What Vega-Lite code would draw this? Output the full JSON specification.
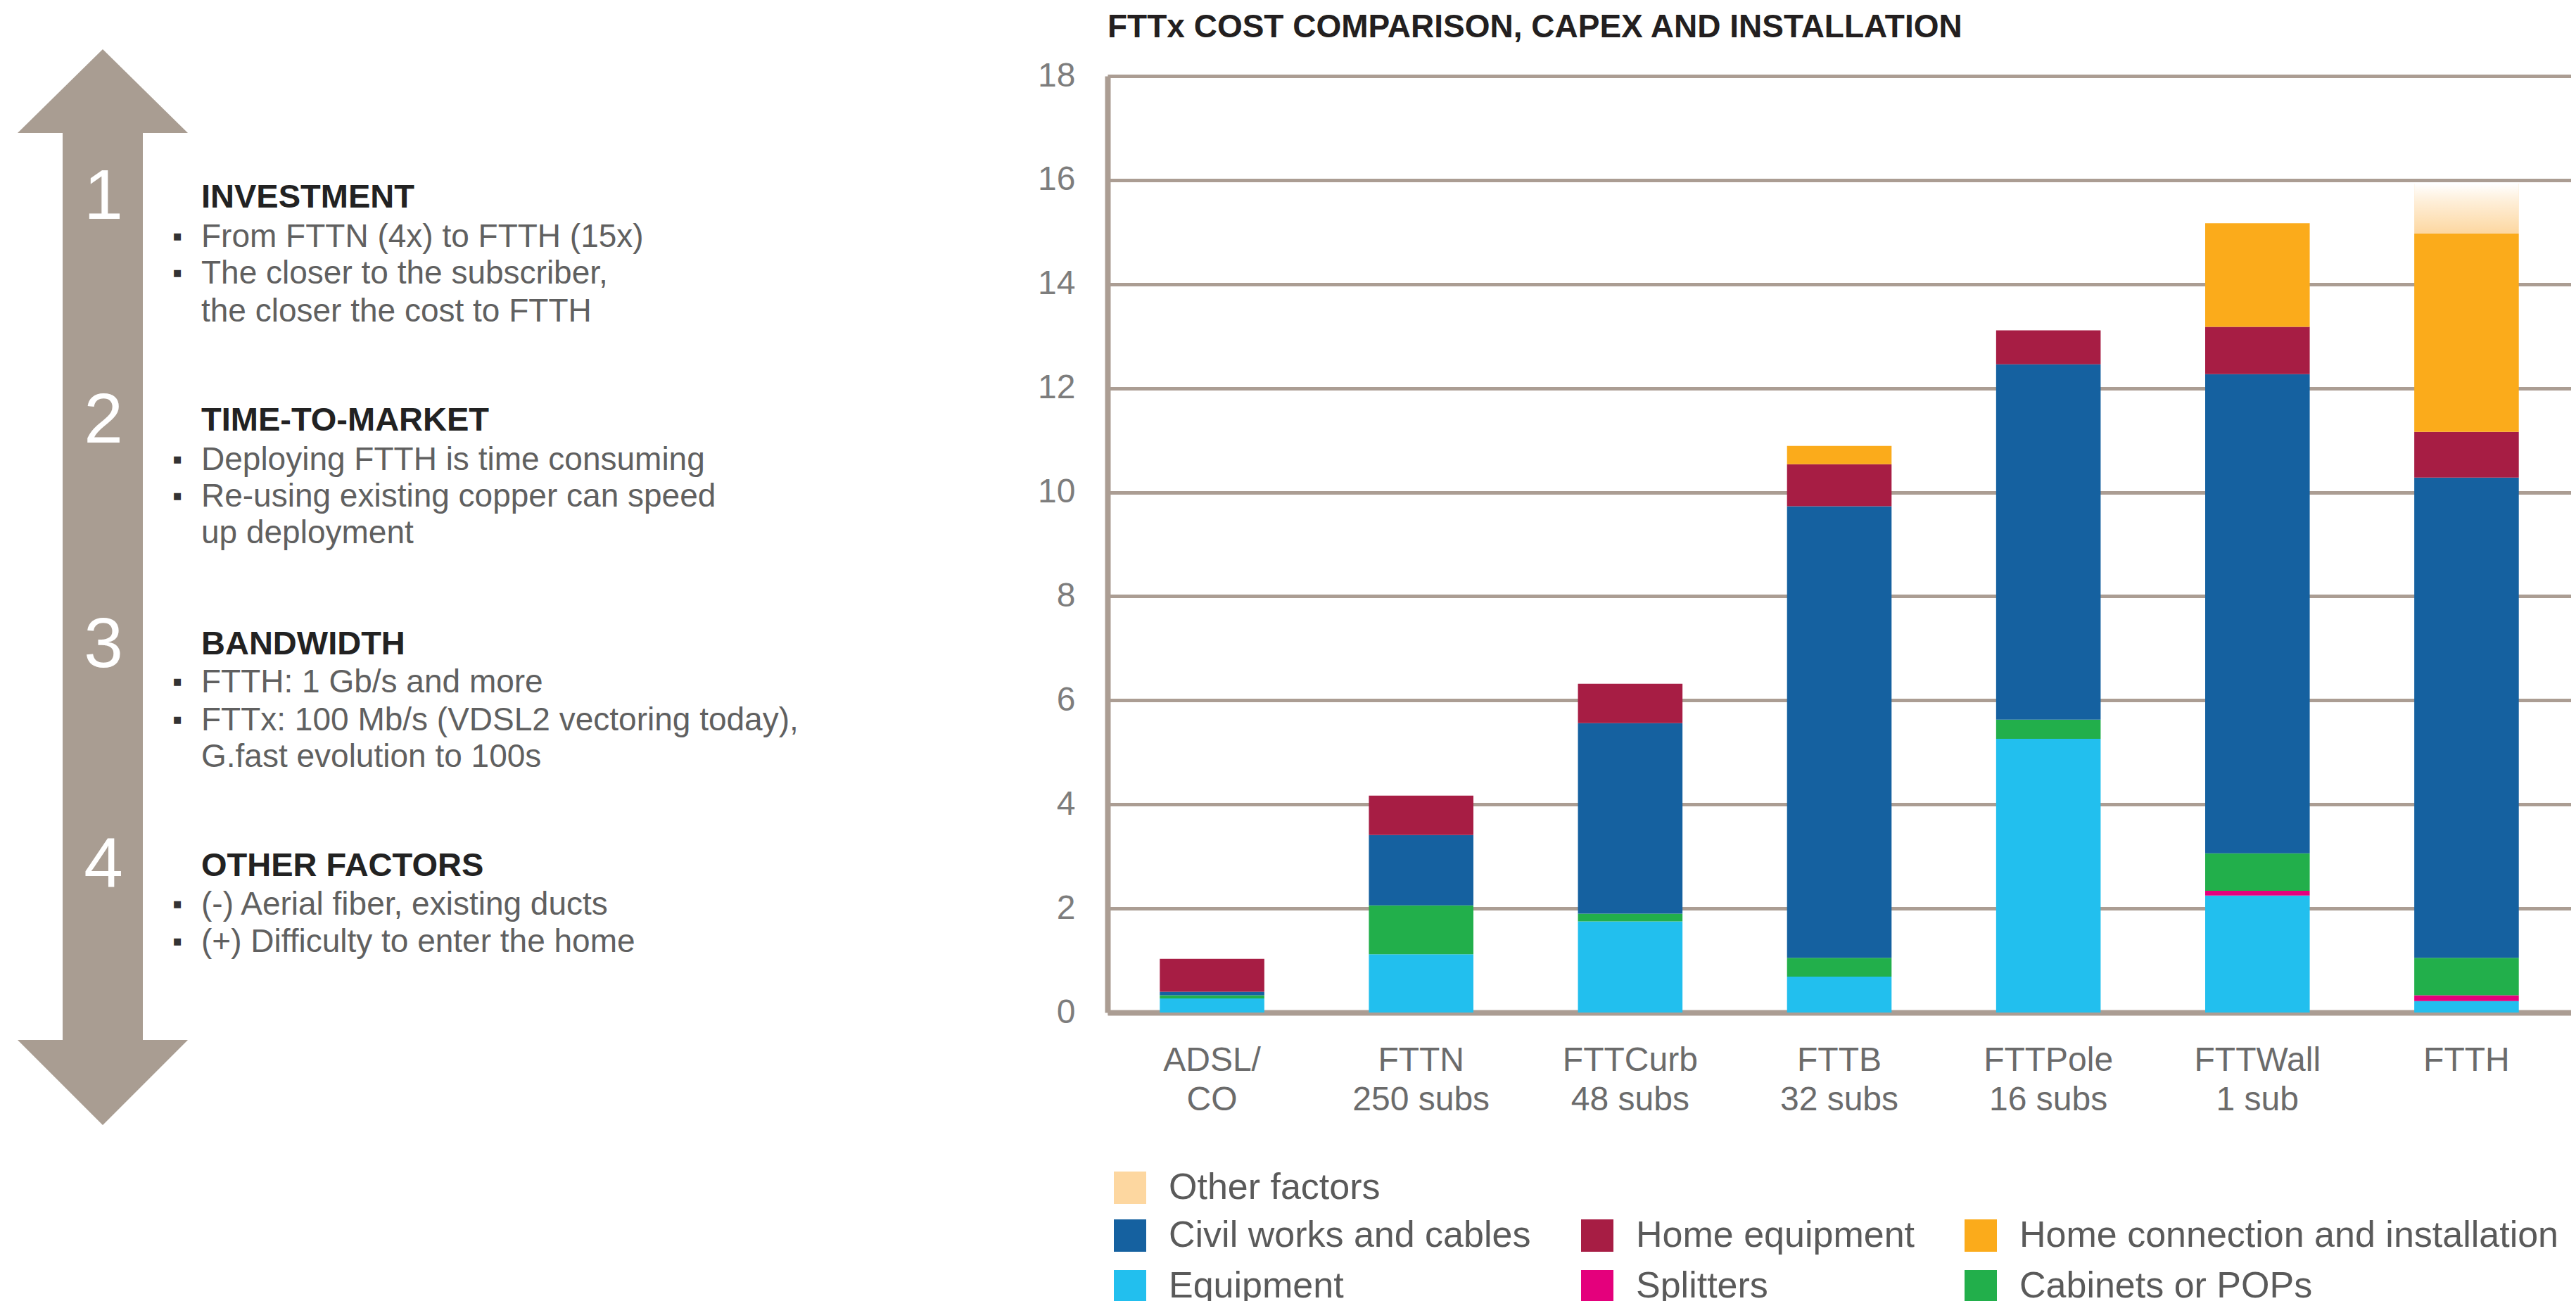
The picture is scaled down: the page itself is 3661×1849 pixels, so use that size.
{
  "$schema": "https://vega.github.io/schema/vega-lite/v6.json",
  "padding": {"left": 0, "top": 16, "right": 0, "bottom": 0},
  "background": "white",
  "bounds": "flush",
  "spacing": 174,
  "config": {
    "font": "Liberation Sans",
    "view": {"stroke": null},
    "axisX": {
      "domainColor": "#ab9d93", "domainWidth": 8, "ticks": false, "tickSize": 0, "grid": false,
      "labelFont": "Liberation Sans", "labelFontSize": 48, "labelColor": "#6b6b6b",
      "labelLineHeight": 56, "labelPadding": 44, "labelAngle": 0, "labelLimit": 0, "zindex": 1
    },
    "axisY": {
      "domainColor": "#ab9d93", "domainWidth": 8, "ticks": false, "tickSize": 0,
      "grid": true, "gridColor": "#ab9d93", "gridWidth": 5,
      "labelFont": "Liberation Sans", "labelFontSize": 48, "labelColor": "#7d7d7d", "labelPadding": 46
    },
    "legend": {
      "orient": "none", "padding": 0, "symbolType": "square", "symbolSize": 2116,
      "symbolStrokeWidth": 0, "labelFont": "Liberation Sans", "labelFontSize": 52,
      "labelColor": "#5a5a5a", "labelOffset": 29, "labelLimit": 1200,
      "rowPadding": 20, "columnPadding": 68, "title": null
    }
  },
  "datasets": {
    "arrow": [
      {"part": "top", "y": 69, "xl": 146, "xr": 146},
      {"part": "top", "y": 188, "xl": 25, "xr": 267},
      {"part": "shaft", "y": 186, "xl": 89, "xr": 203},
      {"part": "shaft", "y": 1478, "xl": 89, "xr": 203},
      {"part": "bottom", "y": 1477, "xl": 25, "xr": 267},
      {"part": "bottom", "y": 1598, "xl": 146, "xr": 146}
    ],
    "nums": [
      {"t": "1", "x": 147, "y": 280},
      {"t": "2", "x": 147, "y": 598},
      {"t": "3", "x": 147, "y": 917},
      {"t": "4", "x": 147, "y": 1230}
    ],
    "heads": [
      {"t": "INVESTMENT", "x": 286, "y": 280},
      {"t": "TIME-TO-MARKET", "x": 286, "y": 597},
      {"t": "BANDWIDTH", "x": 286, "y": 915},
      {"t": "OTHER FACTORS", "x": 286, "y": 1230}
    ],
    "lines": [
      {"t": "From FTTN (4x) to FTTH (15x)", "x": 286, "y": 336, "b": 1},
      {"t": "The closer to the subscriber,", "x": 286, "y": 388, "b": 1},
      {"t": "the closer the cost to FTTH", "x": 286, "y": 442, "b": 0},
      {"t": "Deploying FTTH is time consuming", "x": 286, "y": 653, "b": 1},
      {"t": "Re-using existing copper can speed", "x": 286, "y": 705, "b": 1},
      {"t": "up deployment", "x": 286, "y": 757, "b": 0},
      {"t": "FTTH: 1 Gb/s and more", "x": 286, "y": 969, "b": 1},
      {"t": "FTTx: 100 Mb/s (VDSL2 vectoring today),", "x": 286, "y": 1023, "b": 1},
      {"t": "G.fast evolution to 100s", "x": 286, "y": 1075, "b": 0},
      {"t": "(-) Aerial fiber, existing ducts", "x": 286, "y": 1285, "b": 1},
      {"t": "(+) Difficulty to enter the home", "x": 286, "y": 1338, "b": 1}
    ],
    "costs": [
      {"tech": "ADSL/|CO", "category": "Equipment", "ord": 1, "value": 0.27},
      {"tech": "ADSL/|CO", "category": "Cabinets or POPs", "ord": 3, "value": 0.06},
      {"tech": "ADSL/|CO", "category": "Civil works and cables", "ord": 4, "value": 0.07},
      {"tech": "ADSL/|CO", "category": "Home equipment", "ord": 5, "value": 0.63},
      {"tech": "FTTN|250 subs", "category": "Equipment", "ord": 1, "value": 1.12},
      {"tech": "FTTN|250 subs", "category": "Cabinets or POPs", "ord": 3, "value": 0.94},
      {"tech": "FTTN|250 subs", "category": "Civil works and cables", "ord": 4, "value": 1.35},
      {"tech": "FTTN|250 subs", "category": "Home equipment", "ord": 5, "value": 0.76},
      {"tech": "FTTCurb|48 subs", "category": "Equipment", "ord": 1, "value": 1.75},
      {"tech": "FTTCurb|48 subs", "category": "Cabinets or POPs", "ord": 3, "value": 0.15},
      {"tech": "FTTCurb|48 subs", "category": "Civil works and cables", "ord": 4, "value": 3.66},
      {"tech": "FTTCurb|48 subs", "category": "Home equipment", "ord": 5, "value": 0.76},
      {"tech": "FTTB|32 subs", "category": "Equipment", "ord": 1, "value": 0.69},
      {"tech": "FTTB|32 subs", "category": "Cabinets or POPs", "ord": 3, "value": 0.36},
      {"tech": "FTTB|32 subs", "category": "Civil works and cables", "ord": 4, "value": 8.68},
      {"tech": "FTTB|32 subs", "category": "Home equipment", "ord": 5, "value": 0.81},
      {"tech": "FTTB|32 subs", "category": "Home connection and installation", "ord": 6, "value": 0.35},
      {"tech": "FTTPole|16 subs", "category": "Equipment", "ord": 1, "value": 5.26},
      {"tech": "FTTPole|16 subs", "category": "Cabinets or POPs", "ord": 3, "value": 0.37},
      {"tech": "FTTPole|16 subs", "category": "Civil works and cables", "ord": 4, "value": 6.83},
      {"tech": "FTTPole|16 subs", "category": "Home equipment", "ord": 5, "value": 0.65},
      {"tech": "FTTWall|1 sub", "category": "Equipment", "ord": 1, "value": 2.25},
      {"tech": "FTTWall|1 sub", "category": "Splitters", "ord": 2, "value": 0.09},
      {"tech": "FTTWall|1 sub", "category": "Cabinets or POPs", "ord": 3, "value": 0.72},
      {"tech": "FTTWall|1 sub", "category": "Civil works and cables", "ord": 4, "value": 9.21},
      {"tech": "FTTWall|1 sub", "category": "Home equipment", "ord": 5, "value": 0.91},
      {"tech": "FTTWall|1 sub", "category": "Home connection and installation", "ord": 6, "value": 1.99},
      {"tech": "FTTH", "category": "Equipment", "ord": 1, "value": 0.22},
      {"tech": "FTTH", "category": "Splitters", "ord": 2, "value": 0.11},
      {"tech": "FTTH", "category": "Cabinets or POPs", "ord": 3, "value": 0.72},
      {"tech": "FTTH", "category": "Civil works and cables", "ord": 4, "value": 9.23},
      {"tech": "FTTH", "category": "Home equipment", "ord": 5, "value": 0.88},
      {"tech": "FTTH", "category": "Home connection and installation", "ord": 6, "value": 3.81},
      {"tech": "FTTH", "category": "Other factors", "ord": 7, "value": 0.96}
    ]
  },
  "hconcat": [
    {
      "width": 1400,
      "height": 1331,
      "layer": [
        {
          "data": {"name": "arrow"},
          "mark": {"type": "area", "orient": "horizontal", "color": "#a99d92"},
          "encoding": {
            "y": {"field": "y", "type": "quantitative", "scale": {"domain": [107, 1438], "reverse": true, "nice": false, "zero": false}, "axis": null},
            "x": {"field": "xl", "type": "quantitative", "stack": null, "scale": {"domain": [0, 1400], "nice": false, "zero": false}, "axis": null},
            "x2": {"field": "xr"},
            "detail": {"field": "part", "type": "nominal"}
          }
        },
        {
          "data": {"name": "nums"},
          "mark": {"type": "text", "fontSize": 100, "color": "#ffffff", "align": "center", "baseline": "middle"},
          "encoding": {
            "y": {"field": "y", "type": "quantitative", "scale": {"domain": [107, 1438], "reverse": true, "nice": false, "zero": false}, "axis": null},
            "x": {"field": "x", "type": "quantitative", "scale": {"domain": [0, 1400], "nice": false, "zero": false}, "axis": null},
            "text": {"field": "t"}
          }
        },
        {
          "data": {"name": "heads"},
          "mark": {"type": "text", "fontSize": 47, "fontWeight": "bold", "color": "#222222", "align": "left", "baseline": "middle"},
          "encoding": {
            "y": {"field": "y", "type": "quantitative", "scale": {"domain": [107, 1438], "reverse": true, "nice": false, "zero": false}, "axis": null},
            "x": {"field": "x", "type": "quantitative", "scale": {"domain": [0, 1400], "nice": false, "zero": false}, "axis": null},
            "text": {"field": "t"}
          }
        },
        {
          "data": {"name": "lines"},
          "mark": {"type": "text", "fontSize": 46, "color": "#606060", "align": "left", "baseline": "middle"},
          "encoding": {
            "y": {"field": "y", "type": "quantitative", "scale": {"domain": [107, 1438], "reverse": true, "nice": false, "zero": false}, "axis": null},
            "x": {"field": "x", "type": "quantitative", "scale": {"domain": [0, 1400], "nice": false, "zero": false}, "axis": null},
            "text": {"field": "t"}
          }
        },
        {
          "data": {"name": "lines"},
          "transform": [{"filter": "datum.b == 1"}],
          "mark": {"type": "text", "fontSize": 40, "color": "#333333", "align": "center", "baseline": "middle", "text": "▪", "dx": -34},
          "encoding": {
            "y": {"field": "y", "type": "quantitative", "scale": {"domain": [107, 1438], "reverse": true, "nice": false, "zero": false}, "axis": null},
            "x": {"field": "x", "type": "quantitative", "scale": {"domain": [0, 1400], "nice": false, "zero": false}, "axis": null}
          }
        }
      ]
    },
    {
      "width": 2080,
      "height": 1331,
      "title": {
        "text": "FTTx COST COMPARISON, CAPEX AND INSTALLATION",
        "anchor": "start", "frame": "group", "font": "Liberation Sans",
        "fontSize": 46, "fontWeight": "bold", "color": "#231f20",
        "baseline": "alphabetic", "offset": -15
      },
      "data": {"name": "costs"},
      "encoding": {
        "x": {
          "field": "tech", "type": "nominal", "sort": null,
          "scale": {"domain": ["ADSL/|CO", "FTTN|250 subs", "FTTCurb|48 subs", "FTTB|32 subs", "FTTPole|16 subs", "FTTWall|1 sub", "FTTH"], "paddingInner": 0.5, "paddingOuter": 0.25},
          "axis": {"title": null, "labelExpr": "split(datum.label, '|')"}
        }
      },
      "layer": [
        {
          "transform": [{"filter": "datum.category != 'Other factors'"}],
          "mark": {"type": "bar"},
          "encoding": {
            "y": {"field": "value", "type": "quantitative", "stack": "zero", "scale": {"domain": [0, 18], "nice": false}, "axis": {"title": null, "values": [0, 2, 4, 6, 8, 10, 12, 14, 16, 18]}},
            "color": {
              "field": "category", "type": "nominal",
              "scale": {
                "domain": ["Civil works and cables", "Home equipment", "Home connection and installation", "Equipment", "Splitters", "Cabinets or POPs"],
                "range": ["#1561a0", "#a71d44", "#fbab1b", "#22bfee", "#e4007c", "#22af4b"]
              },
              "legend": {"orient": "none", "direction": "horizontal", "columns": 3, "legendX": 1580, "legendY": 1622}
            },
            "order": {"field": "ord", "type": "quantitative"}
          }
        },
        {
          "transform": [
            {"stack": "value", "groupby": ["tech"], "sort": [{"field": "ord", "order": "ascending"}], "as": ["v0", "v1"]},
            {"filter": "datum.category == 'Other factors'"}
          ],
          "mark": {"type": "bar"},
          "encoding": {
            "y": {"field": "v1", "type": "quantitative", "axis": {"title": null, "values": [0, 2, 4, 6, 8, 10, 12, 14, 16, 18]}},
            "y2": {"field": "v0"},
            "fill": {
              "field": "category", "type": "nominal",
              "scale": {"domain": ["Other factors"], "range": ["#fdd7a0"]},
              "legend": {"orient": "none", "legendX": 1580, "legendY": 1554}
            }
          }
        },
        {
          "transform": [
            {"stack": "value", "groupby": ["tech"], "sort": [{"field": "ord", "order": "ascending"}], "as": ["v0", "v1"]},
            {"filter": "datum.category == 'Other factors'"}
          ],
          "mark": {
            "type": "bar",
            "fill": {"gradient": "linear", "x1": 0, "y1": 0, "x2": 0, "y2": 1,
              "stops": [{"offset": 0, "color": "rgba(255,255,255,1)"}, {"offset": 0.35, "color": "rgba(255,255,255,0.6)"}, {"offset": 1, "color": "rgba(255,255,255,0)"}]}
          },
          "encoding": {
            "y": {"field": "v1", "type": "quantitative", "axis": {"title": null, "values": [0, 2, 4, 6, 8, 10, 12, 14, 16, 18]}},
            "y2": {"field": "v0"}
          }
        }
      ]
    }
  ]
}
